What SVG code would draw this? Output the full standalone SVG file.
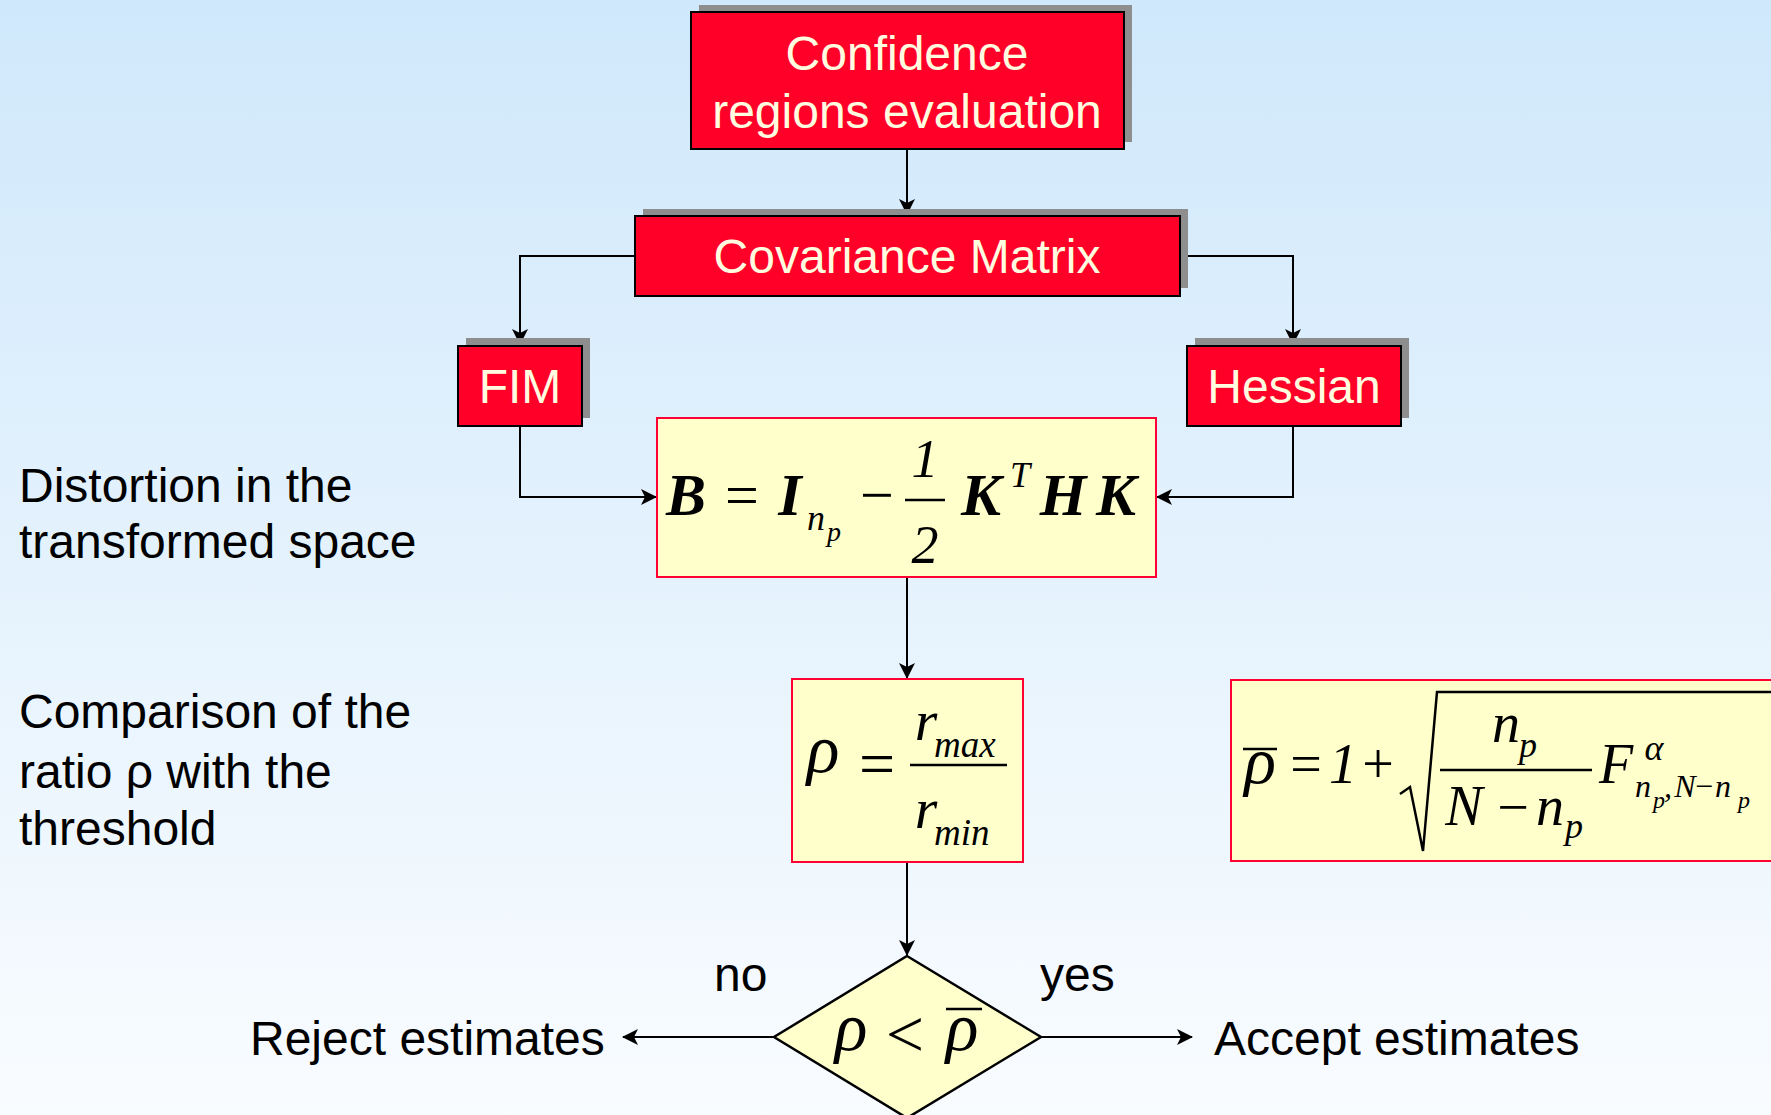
<svg xmlns="http://www.w3.org/2000/svg" width="1771" height="1115" viewBox="0 0 1771 1115">
<defs>
<linearGradient id="bg" x1="0" y1="0" x2="0" y2="1">
<stop offset="0" stop-color="#CFE8FB"/>
<stop offset="1" stop-color="#F9FCFF"/>
</linearGradient>
<marker id="arr" viewBox="0 0 16 16" refX="15" refY="8" markerWidth="16" markerHeight="16" markerUnits="userSpaceOnUse" orient="auto">
<path d="M0,0 L16,8 L0,16 L4,8 z" fill="#000"/>
</marker>
</defs>
<style>
.shadow{fill:#8E8E8E}
.red{fill:#FF0028;stroke:#000;stroke-width:2}
.rt{font-family:"Liberation Sans",Arial,sans-serif;font-size:48px;fill:#FFFCE0;text-anchor:middle}
.yb{fill:#FFFFCC;stroke:#FF0033;stroke-width:2}
.lbl{font-family:"Liberation Sans",Arial,sans-serif;font-size:48px;fill:#000}
.m{font-family:"Liberation Serif","Times New Roman",serif;font-style:italic;fill:#000;text-anchor:middle}
.ms{font-family:"Liberation Serif","Times New Roman",serif;font-style:italic;fill:#000;text-anchor:start}
.mb{font-family:"Liberation Serif","Times New Roman",serif;font-style:italic;font-weight:bold;fill:#000;text-anchor:middle}
.mu{font-family:"Liberation Serif","Times New Roman",serif;fill:#000;text-anchor:middle}
.bar{stroke:#000;stroke-width:2.5;fill:none}
.conn{stroke:#000;stroke-width:2;fill:none}
</style>
<rect x="0" y="0" width="1771" height="1115" fill="url(#bg)"/>

<g id="connectors">
<path class="conn" d="M907,149 V214" marker-end="url(#arr)"/>
<path class="conn" d="M635,256 H520 V344" marker-end="url(#arr)"/>
<path class="conn" d="M1180,256 H1293 V344" marker-end="url(#arr)"/>
<path class="conn" d="M520,426 V497 H656" marker-end="url(#arr)"/>
<path class="conn" d="M1293,426 V497 H1157" marker-end="url(#arr)"/>
<path class="conn" d="M907,577 V678" marker-end="url(#arr)"/>
<path class="conn" d="M907,862 V955" marker-end="url(#arr)"/>
<path class="conn" d="M774,1037 H623" marker-end="url(#arr)"/>
<path class="conn" d="M1041,1037 H1192" marker-end="url(#arr)"/>
</g>

<g id="node-confidence">
<rect class="shadow" x="699" y="5" width="433" height="137"/>
<rect class="red" x="691" y="12" width="433" height="137"/>
<text class="rt" x="907" y="70">Confidence</text>
<text class="rt" x="907" y="128">regions evaluation</text>
</g>

<g id="node-covariance">
<rect class="shadow" x="643" y="209" width="545" height="79"/>
<rect class="red" x="635" y="216" width="545" height="80"/>
<text class="rt" x="907" y="273">Covariance Matrix</text>
</g>

<g id="node-fim">
<rect class="shadow" x="466" y="338" width="124" height="80"/>
<rect class="red" x="458" y="346" width="124" height="80"/>
<text class="rt" x="520" y="403">FIM</text>
</g>

<g id="node-hessian">
<rect class="shadow" x="1195" y="338" width="214" height="80"/>
<rect class="red" x="1187" y="346" width="214" height="80"/>
<text class="rt" x="1294" y="403">Hessian</text>
</g>

<g id="node-distortion">
<rect class="yb" x="657" y="418" width="499" height="159"/>
<text class="mb" x="686" y="515" font-size="60">B</text>
<text class="mu" x="742" y="515" font-size="60">=</text>
<text class="mb" x="790" y="515" font-size="60">I</text>
<text class="m" x="816" y="530" font-size="36">n</text>
<text class="m" x="834" y="541" font-size="28">p</text>
<text class="mu" x="877" y="515" font-size="60">−</text>
<line class="bar" x1="905" y1="500" x2="945" y2="500"/>
<text class="m" x="925" y="477" font-size="54">1</text>
<text class="m" x="925" y="563" font-size="54">2</text>
<text class="mb" x="981" y="515" font-size="60">K</text>
<text class="m" x="1020" y="487" font-size="36">T</text>
<text class="mb" x="1063" y="515" font-size="60">H</text>
<text class="mb" x="1116" y="515" font-size="60">K</text>
</g>

<g id="node-ratio">
<rect class="yb" x="792" y="679" width="231" height="183"/>
<text class="m" x="823" y="772" font-size="68">ρ</text>
<text class="mu" x="877" y="785" font-size="64">=</text>
<line class="bar" x1="910" y1="765" x2="1007" y2="765"/>
<text class="m" x="926" y="740" font-size="58">r</text>
<text class="ms" x="934" y="757" font-size="37">max</text>
<text class="m" x="926" y="828" font-size="58">r</text>
<text class="ms" x="934" y="845" font-size="37">min</text>
</g>

<g id="node-threshold">
<rect class="yb" x="1231" y="680" width="600" height="181"/>
<text class="m" x="1260" y="783" font-size="66">ρ</text>
<line class="bar" x1="1243" y1="749" x2="1277" y2="749"/>
<text class="mu" x="1306" y="783" font-size="56">=</text>
<text class="m" x="1343" y="783" font-size="56">1</text>
<text class="mu" x="1378" y="783" font-size="56">+</text>
<polyline points="1400,794 1410,787 1423,851 1437,692 1771,692" fill="none" stroke="#000" stroke-width="2.5" stroke-linejoin="miter"/>
<line class="bar" x1="1440" y1="770" x2="1592" y2="770"/>
<text class="m" x="1506" y="742" font-size="56">n</text>
<text class="m" x="1528" y="757" font-size="36">p</text>
<text class="m" x="1464" y="825" font-size="56">N</text>
<text class="mu" x="1513" y="826" font-size="56">−</text>
<text class="m" x="1550" y="825" font-size="56">n</text>
<text class="m" x="1574" y="838" font-size="36">p</text>
<text class="m" x="1616" y="783" font-size="56">F</text>
<text class="m" x="1654" y="760" font-size="36">α</text>
<text class="m" x="1643" y="797" font-size="32">n</text>
<text class="m" x="1659" y="808" font-size="24">p</text>
<text class="m" x="1668" y="797" font-size="32">,</text>
<text class="m" x="1685" y="797" font-size="32">N</text>
<text class="mu" x="1704" y="797" font-size="32">−</text>
<text class="m" x="1723" y="797" font-size="32">n</text>
<text class="m" x="1744" y="808" font-size="24">p</text>
</g>

<g id="node-decision">
<polygon points="907,956 1041,1037 907,1118 774,1037" fill="#FFFFCC" stroke="#000" stroke-width="2.5"/>
<text class="m" x="851" y="1050" font-size="68">ρ</text>
<text class="mu" x="905" y="1057" font-size="68">&lt;</text>
<text class="m" x="962" y="1050" font-size="68">ρ</text>
<line class="bar" x1="946" y1="1009" x2="982" y2="1009"/>
</g>

<g id="node-labels">
<text class="lbl" x="19" y="502">Distortion in the</text>
<text class="lbl" x="19" y="558">transformed space</text>
<text class="lbl" x="19" y="728">Comparison of the</text>
<text class="lbl" x="19" y="788">ratio ρ with the</text>
<text class="lbl" x="19" y="845">threshold</text>
</g>

<g id="node-reject">
<text class="lbl" x="250" y="1055">Reject estimates</text>
</g>
<g id="node-accept">
<text class="lbl" x="1214" y="1055">Accept estimates</text>
</g>
<g id="edge-labels">
<text class="lbl" x="714" y="991">no</text>
<text class="lbl" x="1040" y="991">yes</text>
</g>
</svg>
